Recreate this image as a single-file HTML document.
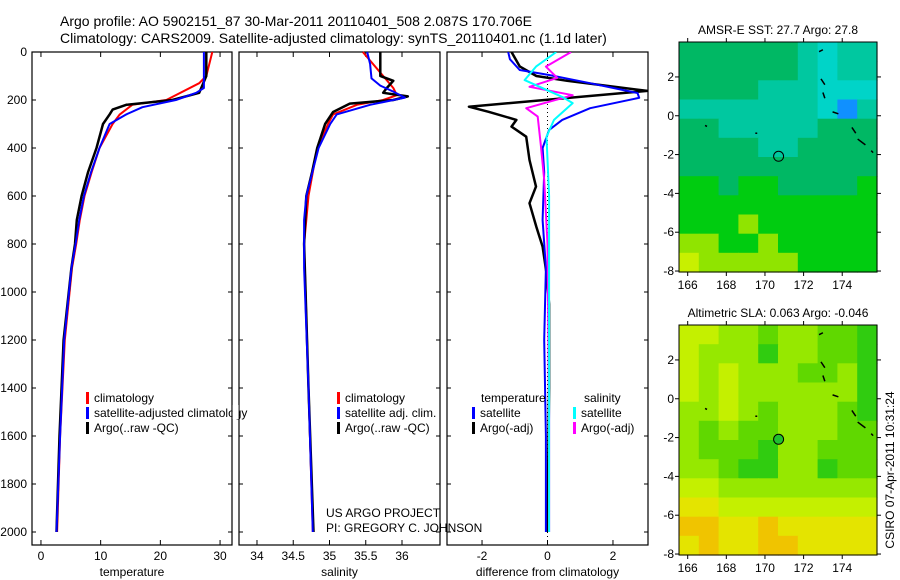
<!DOCTYPE html>
<html><head><meta charset="utf-8">
<style>
body{margin:0;background:#fff;}
svg{display:block;font-family:"Liberation Sans",sans-serif;}
text{fill:#000;}
</style></head>
<body>
<svg id="c" width="900" height="580" viewBox="0 0 900 580" xmlns="http://www.w3.org/2000/svg">
<text x="60" y="26" font-size="14">Argo profile: AO 5902151_87 30-Mar-2011 20110401_508 2.087S 170.706E</text>
<text x="60" y="43" font-size="14">Climatology: CARS2009. Satellite-adjusted climatology: synTS_20110401.nc (1.1d later)</text>
<g id="g"></g>
</svg>
<script>
// ---- profile data (depth in dbar) ----
const tClimDepth=[0,100,130,200,220,260,300,400,500,600,700,800,900,1200,1600,2000];
const tClim=[28.7,27.7,26.5,21,15.3,13.2,12,9.8,8.5,7.3,6.5,5.9,5.2,4.0,3.2,2.7];
const tSatDepth=[0,150,170,200,230,260,300,400,500,600,700,800,900,1200,1600,2000];
const tSat=[27.3,27.3,26,22.6,17,14.3,11.5,9.8,8.4,7.2,6.4,5.8,5.1,3.9,3.2,2.6];
const tArgoDepth=[0,100,170,200,220,240,260,300,400,500,600,700,800,900,1200,1600,2000];
const tArgo=[27.7,27.7,26.5,22,14.3,12,11.5,10.4,9.3,7.9,6.8,6,5.7,5.1,3.8,3.1,2.6];
const sClimDepth=[0,100,150,180,200,220,260,300,400,600,700,800,1400,2000];
const sClim=[35.46,35.74,35.88,35.93,35.74,35.38,35.05,34.98,34.83,34.71,34.68,34.65,34.71,34.77];
const sSatDepth=[0,50,110,140,165,190,220,260,300,400,600,700,900,1400,2000];
const sSat=[35.52,35.56,35.58,35.70,35.88,36.04,35.56,35.10,35.01,34.85,34.68,34.65,34.65,34.71,34.77];
const sArgoDepth=[0,100,120,150,170,185,200,215,250,300,400,500,600,800,1400,2000];
const sArgo=[35.70,35.70,35.88,35.79,35.74,36.08,35.88,35.28,35.05,34.94,34.83,34.76,34.68,34.65,34.71,34.78];
const dTSatDepth=[0,30,75,96,130,171,191,234,283,325,400,500,700,900,1200,1600,2000];
const dTSat=[-1.2,-1.15,-0.85,0.05,1.3,2.75,2.8,1.3,0.45,0.05,-0.15,-0.1,-0.15,-0.05,-0.1,-0.05,-0.05];
const dTArgoDepth=[0,60,100,120,162,228,249,283,311,353,450,561,630,729,811,922,1050,1400,2000];
const dTArgo=[-1.1,-0.85,-0.34,0.6,3.05,-2.4,-1.8,-0.95,-1.1,-0.65,-0.55,-0.35,-0.55,-0.34,-0.15,-0.03,0.05,0.05,0];
const dSSatDepth=[0,61,117,187,213,283,353,600,1000,1500,2000];
const dSSat=[0.27,-0.35,-0.7,0.45,0.77,0.2,-0.03,0.05,0.05,0.05,0.05];
const dSArgoDepth=[0,61,108,145,180,234,269,395,533,800,1500,2000];
const dSArgo=[0.72,-0.05,0.3,-0.55,0.77,-0.65,-0.3,-0.2,-0.1,0,0.05,0.05];
// ---- map data ----
const sstRows=[
[3,3,3,3,3,3,4,5,4,4],[3,3,3,3,3,3,4,5,4,4],[3,3,3,3,4,4,4,5,5,5],[4,4,4,4,4,4,4,5,6,4],
[3,3,4,4,4,4,4,3,3,3],[3,3,3,3,4,4,3,3,3,3],[3,3,3,3,3,3,3,3,3,3],[2,2,3,2,2,3,3,3,3,2],
[2,2,2,2,2,2,2,2,2,2],[2,2,2,1,2,2,2,2,2,2],[1,1,2,2,1,2,2,2,2,2],[0,1,1,1,1,1,2,2,2,2]];
const slaRows=[
[2,2,3,3,4,3,3,4,4,5],[2,3,3,3,5,3,3,4,4,5],[2,3,2,3,3,3,4,4,3,5],[2,3,2,3,3,3,3,3,3,5],
[3,3,2,3,4,3,3,3,4,5],[3,4,3,4,4,3,3,3,4,4],[3,4,4,4,5,3,3,4,4,4],[3,3,4,5,5,3,3,5,4,4],
[2,2,3,3,3,3,3,3,3,3],[1,1,2,2,2,2,2,2,2,2],[0,0,1,1,0,1,1,1,1,1],[1,0,1,1,0,0,1,1,1,1]];
const sstColors=['#c8f000','#90e400','#00cc10','#00b864','#00c8a0','#00d4c8','#1090ff'];
const slaColors=['#f0c400','#e4e400','#c4f000','#96e800','#60d800','#30cc10','#00c000'];
const tempTicks=[0,10,20,30], salTicks=[34,34.5,35,35.5,36], difTicks=[-2,0,2];
const depthTicks=[0,200,400,600,800,1000,1200,1400,1600,1800,2000];
const latTicks=[2,0,-2,-4,-6,-8], lonTicks=[166,168,170,172,174];
const argoLon=170.706, argoLat=-2.087;

const NS='http://www.w3.org/2000/svg', G=document.getElementById('g');
function el(tag,at,txt){const e=document.createElementNS(NS,tag);for(const k in at)e.setAttribute(k,at[k]);if(txt!=null)e.textContent=txt;G.appendChild(e);return e;}
const yD=d=>52+d*0.24;
const panels=[
 {x0:32,x1:232,v0:-1.5,v1:32,ticks:tempTicks,label:'temperature',name:'temperature'},
 {x0:239,x1:440,v0:33.752,v1:36.524,ticks:salTicks,label:'salinity',name:'salinity'},
 {x0:447,x1:648,v0:-3.07,v1:3.07,ticks:difTicks,label:'difference from climatology',name:'difference'}];
panels.forEach(p=>{p.sx=v=>p.x0+(v-p.v0)/(p.v1-p.v0)*(p.x1-p.x0);});
const sT=panels[0].sx,sS=panels[1].sx,sD=panels[2].sx;
function line(depth,vals,sx,col,w,name,clip){
 const pts=depth.map((d,i)=>sx(vals[i]).toFixed(1)+','+yD(d).toFixed(1)).join(' ');
 const e=el('polyline',{points:pts,fill:'none',stroke:col,'stroke-width':w,'stroke-linejoin':'round'});
 if(clip)e.setAttribute('clip-path','url(#cp3)');
 
 
}
const defs=el('defs',{});
const cp=document.createElementNS(NS,'clipPath');cp.setAttribute('id','cp3');
const cr=document.createElementNS(NS,'rect');cr.setAttribute('x',447);cr.setAttribute('y',52);cr.setAttribute('width',201);cr.setAttribute('height',493);
cp.appendChild(cr);defs.appendChild(cp);
panels.forEach((p,pi)=>{
 const r=el('rect',{x:p.x0,y:52,width:p.x1-p.x0,height:493,fill:'none',stroke:'#000','stroke-width':1.2});
 
 
 p.ticks.forEach(t=>{const x=p.sx(t);
  el('line',{x1:x,y1:52,x2:x,y2:57,stroke:'#000'});el('line',{x1:x,y1:545,x2:x,y2:540,stroke:'#000'});
  const tl=el('text',{x:x,y:560,'font-size':12,'text-anchor':'middle'},String(t));
  
  });
 depthTicks.forEach(d=>{el('line',{x1:p.x0,y1:yD(d),x2:p.x0+4,y2:yD(d),stroke:'#000'});el('line',{x1:p.x1,y1:yD(d),x2:p.x1-4,y2:yD(d),stroke:'#000'});});
 const xl=el('text',{x:(p.x0+p.x1)/2,y:576,'font-size':12,'text-anchor':'middle'},p.label);
 
 
});
depthTicks.forEach(d=>{const t=el('text',{x:27,y:yD(d)+4,'font-size':12,'text-anchor':'end'},String(d));
 
 });
el('line',{x1:sD(0),y1:52,x2:sD(0),y2:545,stroke:'#000','stroke-dasharray':'1,3'});
line(tClimDepth,tClim,sT,'#f00',2,'temp-climatology-line');
line(tArgoDepth,tArgo,sT,'#000',2.5,'temp-argo-line');
line(tSatDepth,tSat,sT,'#00f',2,'temp-satellite-line');
line(sClimDepth,sClim,sS,'#f00',2,'sal-climatology-line');
line(sArgoDepth,sArgo,sS,'#000',2.5,'sal-argo-line');
line(sSatDepth,sSat,sS,'#00f',2,'sal-satellite-line');
line(dTArgoDepth,dTArgo,sD,'#000',2.5,'diff-temp-argo-line',1);
line(dTSatDepth,dTSat,sD,'#00f',2,'diff-temp-satellite-line',1);
line(dSArgoDepth,dSArgo,sD,'#f0f',2,'diff-sal-argo-line',1);
line(dSSatDepth,dSSat,sD,'#0ff',2,'diff-sal-satellite-line',1);
function leg(x,y,col,txt,name){el('rect',{x:x,y:y-10,width:3,height:12,fill:col});
 const t=el('text',{x:x+8,y:y,'font-size':12},txt);
 
 }
leg(86,402,'#f00','climatology','legend-climatology');
leg(86,417,'#00f','satellite-adjusted climatology','legend-satellite');
leg(86,432,'#000','Argo(..raw -QC)','legend-argo');
leg(337,402,'#f00','climatology','legend-sal-climatology');
leg(337,417,'#00f','satellite adj. clim.','legend-sal-satellite');
leg(337,432,'#000','Argo(..raw -QC)','legend-sal-argo');
el('text',{x:481,y:402,'font-size':12},'temperature');
el('text',{x:584,y:402,'font-size':12},'salinity');
leg(472,417,'#00f','satellite','legend-diff-temp-sat');
leg(472,432,'#000','Argo(-adj)','legend-diff-temp-argo');
leg(573,417,'#0ff','satellite','legend-diff-sal-sat');
leg(573,432,'#f0f','Argo(-adj)','legend-diff-sal-argo');
el('rect',{x:232.6,y:405,width:6,height:14,fill:'#fff'});
el('text',{x:326,y:517,'font-size':12},'US ARGO PROJECT');
el('text',{x:326,y:532,'font-size':12},'PI: GREGORY C. JOHNSON');
function map(top,rows,cols,title,name,filledCircle){
 const x0=679,x1=877,lon0=165.55,lon1=175.8,lat0=3.8,lat1=-8.05,bot=top+230;
 const mx=l=>x0+(l-lon0)/(lon1-lon0)*(x1-x0), my=l=>top+(lat0-l)/(lat0-lat1)*(bot-top);
 const nr=rows.length,nc=rows[0].length,cw=(x1-x0)/nc,ch=(bot-top)/nr;
 rows.forEach((row,i)=>row.forEach((v,j)=>{const c=el('rect',{x:(x0+j*cw).toFixed(1),y:(top+i*ch).toFixed(1),width:(cw+0.6).toFixed(1),height:(ch+0.6).toFixed(1),fill:cols[v]});
  
  }));
 const f=el('rect',{x:x0,y:top,width:x1-x0,height:bot-top,fill:'none',stroke:'#000'});
 
 
 latTicks.forEach(l=>{const y=my(l);el('line',{x1:x0-4,y1:y,x2:x0,y2:y,stroke:'#000'});el('line',{x1:x1,y1:y,x2:x1+4,y2:y,stroke:'#000'});
  el('text',{x:x0-5,y:y+4,'font-size':12,'text-anchor':'end'},String(l));});
 lonTicks.forEach(l=>{const x=mx(l);el('line',{x1:x,y1:top-4,x2:x,y2:top,stroke:'#000'});el('line',{x1:x,y1:bot,x2:x,y2:bot+4,stroke:'#000'});
  el('text',{x:x,y:bot+17,'font-size':12,'text-anchor':'middle'},String(l));});
 const t=el('text',{x:778,y:top-8,'font-size':12,'text-anchor':'middle'},title);
 
 
 [[172.8,3.3,173,3.4],[172.9,1.9,173.1,1.6],[173,1.2,173.1,0.9],[173.5,0.2,173.8,0.1],[174.5,-0.6,174.7,-0.9],[174.8,-1.2,175.2,-1.5],[175.5,-1.8,175.6,-1.9],[166.9,-0.5,167,-0.55],[169.5,-0.9,169.6,-0.9]].forEach(s=>
  el('line',{x1:mx(s[0]),y1:my(s[1]),x2:mx(s[2]),y2:my(s[3]),stroke:'#000','stroke-width':1.5}));
 const c=el('circle',{cx:mx(argoLon),cy:my(argoLat),r:5,fill:filledCircle||'none',stroke:'#000'});
 
 
}
map(42,sstRows,sstColors,'AMSR-E SST: 27.7 Argo: 27.8','sst-map');
map(325,slaRows,slaColors,'Altimetric SLA: 0.063 Argo: -0.046','sla-map','#20c030');
const ts=el('text',{x:0,y:0,'font-size':12,'text-anchor':'middle',transform:'translate(894,470) rotate(-90)'},'CSIRO 07-Apr-2011 10:31:24');


</script>
</body></html>
